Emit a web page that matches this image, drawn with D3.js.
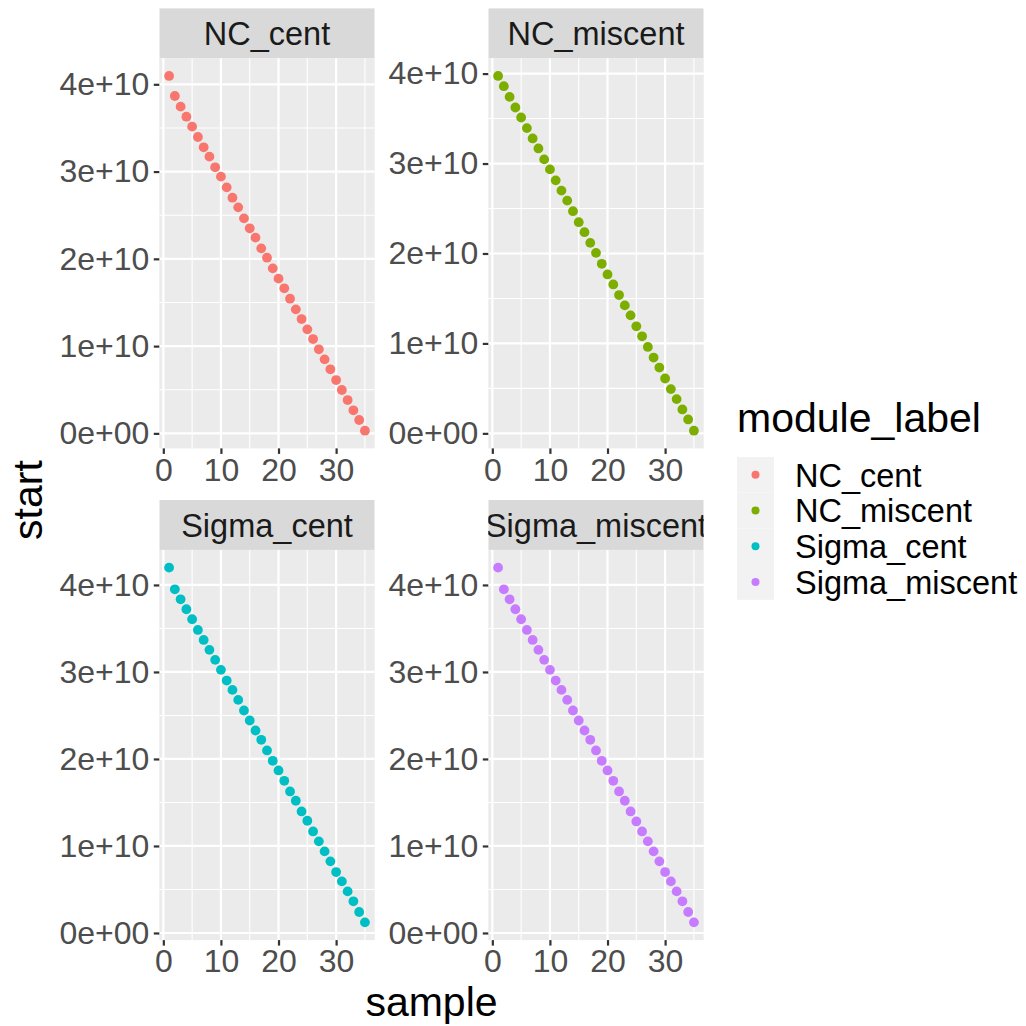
<!DOCTYPE html>
<html>
<head>
<meta charset="utf-8">
<script src="https://cdn.jsdelivr.net/npm/d3@7"></script>
<style>
  html, body { margin: 0; padding: 0; background: #ffffff; }
  svg { display: block; font-family: Arial, "Liberation Sans", sans-serif; }
</style>
</head>
<body>
<svg id="chart" width="1026" height="1026"></svg>
<script>
// ---------------- data ----------------
const modules = ["NC_cent", "NC_miscent", "Sigma_cent", "Sigma_miscent"];
const colors = ["#F8766D", "#7CAE00", "#00BFC4", "#C77CFF"];
const samples = d3.range(1, 36); // 1..35

const ncCent = [4.096, 3.866, 3.744, 3.629, 3.515, 3.396, 3.278, 3.171, 3.049, 2.942,
  2.819, 2.701, 2.590, 2.464, 2.350, 2.243, 2.120, 2.013, 1.891, 1.773,
  1.662, 1.543, 1.421, 1.310, 1.192, 1.081, 0.963, 0.848, 0.734, 0.611,
  0.497, 0.382, 0.264, 0.153, 0.031].map(v => v * 1e10);
const ncMiscent = [3.974, 3.860, 3.741, 3.623, 3.512, 3.394, 3.279, 3.168, 3.046, 2.935,
  2.813, 2.699, 2.588, 2.470, 2.348, 2.237, 2.118, 2.007, 1.885, 1.767,
  1.656, 1.538, 1.423, 1.312, 1.190, 1.079, 0.961, 0.843, 0.732, 0.610,
  0.492, 0.381, 0.266, 0.155, 0.030].map(v => v * 1e10);
const sigmaCent = [4.199, 3.950, 3.835, 3.721, 3.606, 3.483, 3.368, 3.254, 3.139, 3.024,
  2.901, 2.794, 2.679, 2.557, 2.442, 2.327, 2.220, 2.098, 1.979, 1.868,
  1.749, 1.627, 1.520, 1.397, 1.290, 1.167, 1.053, 0.938, 0.823, 0.700,
  0.593, 0.478, 0.364, 0.241, 0.122].map(v => v * 1e10);
const sigmaMiscent = [4.199, 3.950, 3.835, 3.721, 3.606, 3.483, 3.368, 3.254, 3.139, 3.024,
  2.901, 2.794, 2.679, 2.557, 2.442, 2.327, 2.220, 2.098, 1.979, 1.868,
  1.749, 1.627, 1.520, 1.397, 1.282, 1.167, 1.053, 0.938, 0.823, 0.700,
  0.593, 0.478, 0.364, 0.241, 0.122].map(v => v * 1e10);
const seriesValues = [ncCent, ncMiscent, sigmaCent, sigmaMiscent];

const xTicks = [0, 10, 20, 30];
const xMinor = [5, 15, 25, 35];
const yTicks = [0, 1e10, 2e10, 3e10, 4e10];
const yTickLabels = ["0e+00", "1e+10", "2e+10", "3e+10", "4e+10"];
const yMinor = [0.5e10, 1.5e10, 2.5e10, 3.5e10];

// ---------------- layout ----------------
const svg = d3.select("#chart");
const panelW = 215.4, panelH = 390.2, stripH = 50;
const colX = [159.3, 488.3];
const rowY = [58.2, 549.9];
const tickFont = 32, stripFont = 32.5, legendFont = 32.5, titleFont = 41;
const gridCol = "#FFFFFF", panelBg = "#EBEBEB", stripBg = "#D9D9D9";

function expand(ext) {
  const pad = (ext[1] - ext[0]) * 0.05;
  return [ext[0] - pad, ext[1] + pad];
}

const defs = svg.append("defs");

modules.forEach((m, i) => {
  const col = i % 2, row = Math.floor(i / 2);
  const px = colX[col], py = rowY[row];
  const vals = seriesValues[i];
  const data = samples.map((s, k) => ({ sample: s, start: vals[k] }));

  const x = d3.scaleLinear().domain(expand(d3.extent(samples))).range([px, px + panelW]);
  const y = d3.scaleLinear().domain(expand(d3.extent(vals))).range([py + panelH, py]);

  const g = svg.append("g");
  g.append("rect").attr("x", px).attr("y", py).attr("width", panelW).attr("height", panelH)
    .attr("fill", panelBg);

  // minor grid
  g.selectAll(".xmin").data(xMinor.filter(v => x(v) >= px && x(v) <= px + panelW)).join("line")
    .attr("x1", d => x(d)).attr("x2", d => x(d)).attr("y1", py).attr("y2", py + panelH)
    .attr("stroke", gridCol).attr("stroke-width", 1.1);
  g.selectAll(".ymin").data(yMinor.filter(v => y(v) >= py && y(v) <= py + panelH)).join("line")
    .attr("y1", d => y(d)).attr("y2", d => y(d)).attr("x1", px).attr("x2", px + panelW)
    .attr("stroke", gridCol).attr("stroke-width", 1.1);
  // major grid
  g.selectAll(".xmaj").data(xTicks).join("line")
    .attr("x1", d => x(d)).attr("x2", d => x(d)).attr("y1", py).attr("y2", py + panelH)
    .attr("stroke", gridCol).attr("stroke-width", 2.2);
  g.selectAll(".ymaj").data(yTicks).join("line")
    .attr("y1", d => y(d)).attr("y2", d => y(d)).attr("x1", px).attr("x2", px + panelW)
    .attr("stroke", gridCol).attr("stroke-width", 2.2);

  // points
  g.selectAll("circle").data(data).join("circle")
    .attr("cx", d => x(d.sample)).attr("cy", d => y(d.start)).attr("r", 4.9)
    .attr("fill", colors[i]);

  // y axis
  const yAxis = d3.axisLeft(y).tickValues(yTicks).tickSize(5.5).tickPadding(4.5)
    .tickFormat((d, k) => yTickLabels[k]);
  const ya = svg.append("g").attr("transform", `translate(${px},0)`).call(yAxis);
  ya.select(".domain").remove();
  ya.selectAll(".tick line").attr("stroke", "#333333").attr("stroke-width", 2.2);
  ya.selectAll(".tick text").attr("fill", "#4D4D4D").attr("font-size", tickFont)
    .attr("font-family", "Arial, 'Liberation Sans', sans-serif");

  // x axis
  const xAxis = d3.axisBottom(x).tickValues(xTicks).tickSize(5.5).tickPadding(4)
    .tickFormat(d3.format("d"));
  const xa = svg.append("g").attr("transform", `translate(0,${py + panelH})`).call(xAxis);
  xa.select(".domain").remove();
  xa.selectAll(".tick line").attr("stroke", "#333333").attr("stroke-width", 2.2);
  xa.selectAll(".tick text").attr("fill", "#4D4D4D").attr("font-size", tickFont)
    .attr("font-family", "Arial, 'Liberation Sans', sans-serif");

  // strip
  const clipId = "clip" + i;
  defs.append("clipPath").attr("id", clipId).append("rect")
    .attr("x", px).attr("y", py - stripH).attr("width", panelW).attr("height", stripH);
  const sg = svg.append("g").attr("clip-path", `url(#${clipId})`);
  sg.append("rect").attr("x", px).attr("y", py - stripH).attr("width", panelW).attr("height", stripH)
    .attr("fill", stripBg);
  sg.append("text").attr("x", px + panelW / 2).attr("y", py - stripH / 2 + 11.8)
    .attr("text-anchor", "middle").attr("font-size", stripFont).attr("fill", "#1A1A1A")
    .text(m);
});

// axis titles
svg.append("text").attr("x", colX[0] + (colX[1] + panelW - colX[0]) / 2).attr("y", 1016)
  .attr("text-anchor", "middle").attr("font-size", titleFont).attr("fill", "#000000").text("sample");
svg.append("text").attr("transform", "translate(42,500) rotate(-90)")
  .attr("text-anchor", "middle").attr("font-size", titleFont).attr("fill", "#000000").text("start");

// legend
const lg = svg.append("g").attr("transform", "translate(737,0)");
lg.append("text").attr("x", 0).attr("y", 432).attr("font-size", titleFont).attr("fill", "#000000")
  .text("module_label");
const keyH = 35.7, keyTop = 457;
modules.forEach((m, i) => {
  const ky = keyTop + i * keyH;
  lg.append("rect").attr("x", 0).attr("y", ky).attr("width", 37).attr("height", keyH)
    .attr("fill", "#F2F2F2");
  lg.append("circle").attr("cx", 18.5).attr("cy", ky + keyH / 2).attr("r", 4).attr("fill", colors[i]);
  lg.append("text").attr("x", 58).attr("y", ky + keyH / 2 + 11.7).attr("font-size", legendFont)
    .attr("fill", "#000000").text(m);
});
</script>
</body>
</html>
